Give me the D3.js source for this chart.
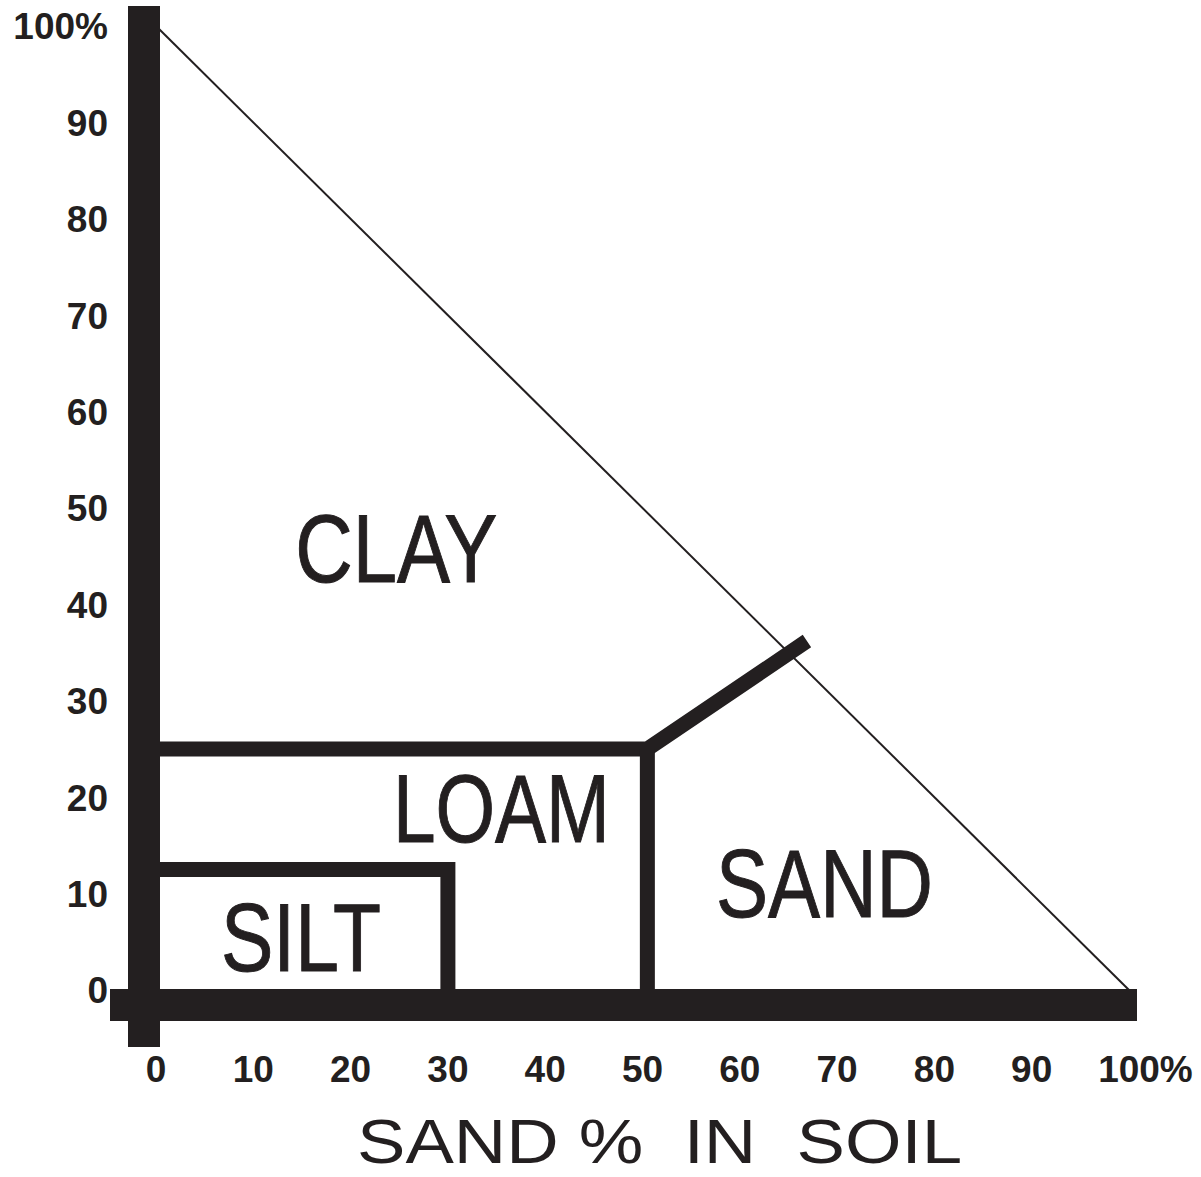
<!DOCTYPE html>
<html>
<head>
<meta charset="utf-8">
<script src="https://cdn.jsdelivr.net/npm/d3@7"></script>
<style>
  html, body { margin: 0; padding: 0; background: #fff; }
  svg { display: block; }
</style>
</head>
<body>
<script>
// ---- Data ----
const xTicks = [0, 10, 20, 30, 40, 50, 60, 70, 80, 90, 100];
const yTicks = [0, 10, 20, 30, 40, 50, 60, 70, 80, 90, 100];
const tickLabel = v => v === 100 ? "100%" : String(v);

// Boundary lines, as [sand %, clay %] points
const diagonal = [[0, 100], [100, 0]];
const siltBoundary = [[0, 12.5], [30, 12.5], [30, 0]];
const loamBoundary = [[0, 25], [50.5, 25], [66.9, 36.2]];
const loamSandBoundary = [[50.5, 25], [50.5, 0]];

// Region names and their anchor point [sand %, clay %]
const regionNames = ["CLAY", "LOAM", "SAND", "SILT"];
const regionAnchors = [[24.7, 42.3], [35.5, 15.4], [68.7, 7.6], [14.9, 2.0]];
const regionWidths = [202, 217, 217, 160];

const xTitle = "SAND %  IN  SOIL";

// ---- Layout ----
const W = 1201, H = 1177;
const ink = "#231f20";

const x = d3.scaleLinear().domain([0, 100]).range([156, 1129]);
const y = d3.scaleLinear().domain([0, 100]).range([990, 26]);

const svg = d3.select("body").append("svg")
  .attr("width", W).attr("height", H)
  .attr("viewBox", `0 0 ${W} ${H}`);

const line = d3.line().x(d => x(d[0])).y(d => y(d[1]));

// Diagonal (thin)
svg.append("path")
  .attr("d", line(diagonal))
  .attr("fill", "none")
  .attr("stroke", ink)
  .attr("stroke-width", 2);

// Boundaries (thick)
[siltBoundary, loamBoundary, loamSandBoundary].forEach(b => {
  svg.append("path")
    .attr("d", line(b))
    .attr("fill", "none")
    .attr("stroke", ink)
    .attr("stroke-width", 15)
    .attr("stroke-linejoin", "miter")
    .attr("stroke-linecap", "butt");
});

// Thick axis bars
svg.append("rect")
  .attr("x", 128).attr("y", 6)
  .attr("width", 32).attr("height", 1041)
  .attr("fill", ink);
svg.append("rect")
  .attr("x", 110).attr("y", 989)
  .attr("width", 1027).attr("height", 32)
  .attr("fill", ink);

// Y tick labels
svg.append("g").selectAll("text")
  .data(yTicks).join("text")
  .attr("x", 108)
  .attr("y", d => y(d))
  .attr("dy", "0.36em")
  .attr("text-anchor", "end")
  .attr("font-family", "'Liberation Sans', Arial, sans-serif")
  .attr("font-weight", "bold")
  .attr("font-size", 37)
  .attr("fill", ink)
  .text(tickLabel);

// X tick labels (percent sign hangs to the right of the number)
svg.append("g").selectAll("text")
  .data(xTicks).join("text")
  .attr("x", d => x(d))
  .attr("y", 1069)
  .attr("dy", "0.36em")
  .attr("text-anchor", d => d === 100 ? "start" : "middle")
  .attr("dx", d => d === 100 ? "-0.834em" : 0)
  .attr("font-family", "'Liberation Sans', Arial, sans-serif")
  .attr("font-weight", "bold")
  .attr("font-size", 37)
  .attr("fill", ink)
  .text(tickLabel);

// Region names
svg.append("g").selectAll("text")
  .data(regionNames).join("text")
  .attr("x", (d, i) => x(regionAnchors[i][0]))
  .attr("y", (d, i) => y(regionAnchors[i][1]))
  .attr("text-anchor", "middle")
  .attr("font-family", "'Liberation Sans Narrow', 'Arial Narrow', 'Liberation Sans', sans-serif")
  .attr("font-size", 96)
  .attr("textLength", (d, i) => regionWidths[i])
  .attr("lengthAdjust", "spacingAndGlyphs")
  .attr("fill", ink)
  .attr("stroke", ink)
  .attr("stroke-width", 1)
  .text(d => d);

// Axis title
svg.append("text")
  .attr("x", 357)
  .attr("y", 1163)
  .attr("font-family", "'Liberation Sans', Arial, sans-serif")
  .attr("font-size", 63)
  .attr("textLength", 605)
  .attr("lengthAdjust", "spacingAndGlyphs")
  .attr("fill", ink)
  .style("white-space", "pre")
  .text(xTitle);
</script>
</body>
</html>
